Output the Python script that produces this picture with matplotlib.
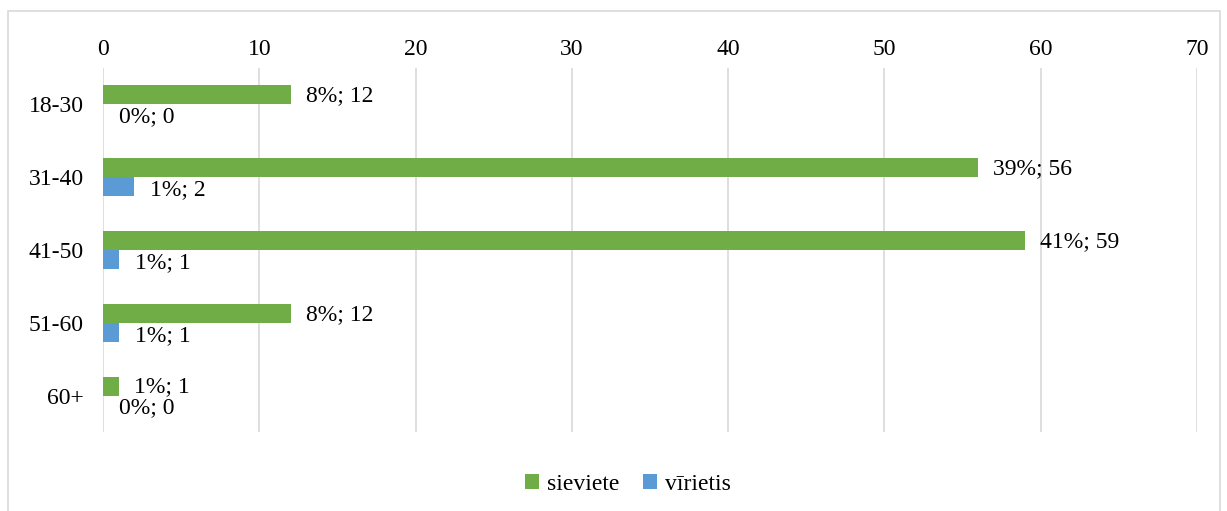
import matplotlib
matplotlib.use("Agg")
import matplotlib.pyplot as plt
from matplotlib.patches import Rectangle
import numpy as np

categories = ["18-30", "31-40", "41-50", "51-60", "60+"]
sieviete = [12, 56, 59, 12, 1]
virietis = [0, 2, 1, 1, 0]
sieviete_pct = ["8%", "39%", "41%", "8%", "1%"]
virietis_pct = ["0%", "1%", "1%", "1%", "0%"]
xticks = [0, 10, 20, 30, 40, 50, 60, 70]

plt.rcParams['font.family'] = ['Liberation Serif', 'DejaVu Serif']
green = "#70AD47"
blue = "#5B9BD5"
fs = 17

fig = plt.figure(figsize=(12.27, 5.11), dpi=100)
fig.patches.append(Rectangle((8/1227, -0.05), 1212/1227, 1.05 - 11/511, transform=fig.transFigure,
                             fill=False, edgecolor="#D9D9D9", linewidth=1.2))
ax = fig.add_axes([103/1227, 1 - 432/511, 1094/1227, (432 - 68)/511])

y = np.arange(len(categories))
h = 0.26
ax.barh(y - h/2, sieviete, height=h, color=green, label="sieviete", zorder=3)
ax.barh(y + h/2, virietis, height=h, color=blue, label="vīrietis", zorder=3)

for i in range(len(categories)):
    ax.annotate(f"{sieviete_pct[i]}; {sieviete[i]}", (sieviete[i], y[i] - h/2),
                xytext=(15, -1), textcoords="offset pixels",
                va="center", ha="left", fontsize=fs)
    ax.annotate(f"{virietis_pct[i]}; {virietis[i]}", (virietis[i], y[i] + h/2),
                xytext=(16, -3), textcoords="offset pixels",
                va="center", ha="left", fontsize=fs)

ax.set_xlim(0, 70)
ax.set_ylim(len(categories) - 0.5, -0.5)
ax.set_xticks(xticks)
ax.set_yticks(y)
ax.set_yticklabels(categories)
ax.xaxis.tick_top()
ax.tick_params(axis="both", length=0, labelsize=fs)
ax.tick_params(axis="x", pad=6)
ax.tick_params(axis="y", pad=14)
ax.grid(axis="x", color="#D9D9D9", linewidth=1.2, zorder=0)
for s in ax.spines.values():
    s.set_visible(False)

fig.legend(loc="center", bbox_to_anchor=(628/1227, 1 - 484/511), ncol=2, frameon=False,
           fontsize=fs, handlelength=0.6, handleheight=0.6, handletextpad=0.35, columnspacing=1.0)

fig.savefig("out.png", dpi=100)
